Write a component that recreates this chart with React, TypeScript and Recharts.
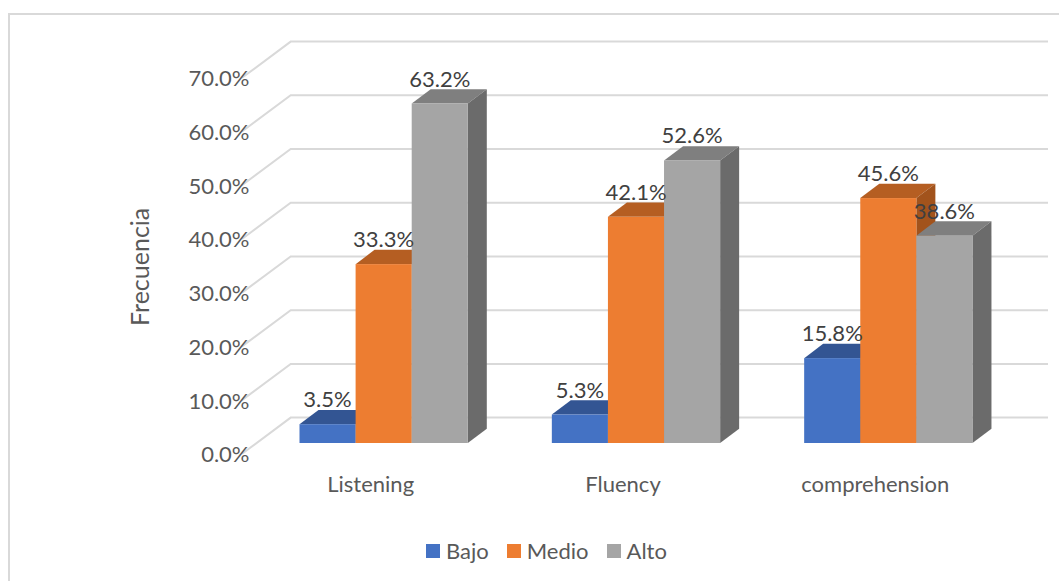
import { Bar, BarChart, CartesianGrid, LabelList, Legend, XAxis, YAxis } from "recharts";

const categories = ["Listening", "Fluency", "comprehension"];
const bajo = [3.5, 5.3, 15.8];
const medio = [33.3, 42.1, 45.6];
const alto = [63.2, 52.6, 38.6];
const yTicks = [0, 10, 20, 30, 40, 50, 60, 70];
const seriesNames = ["Bajo", "Medio", "Alto"];

const data = categories.map((name, i) => ({ name, Bajo: bajo[i], Medio: medio[i], Alto: alto[i] }));

const FONT = "Lato, sans-serif";
const GRID = "#D9D9D9";
const colors: Record<string, { front: string; top: string; side: string }> = {
  Bajo: { front: "#4472C4", top: "#335593", side: "#2B4A82" },
  Medio: { front: "#ED7D31", top: "#B55E22", side: "#A2531C" },
  Alto: { front: "#A5A5A5", top: "#7F7F7F", side: "#6B6B6B" },
};

// box depth of the bars, and where the floor/back wall sit relative to the bar plane
const DX = 19;
const DY = 14.3;

function Box3D({ x, y, width, height, name }: any) {
  const c = colors[name];
  const r = x + width;
  const b = y + height;
  return (
    <g>
      <path d={`M${x} ${y}L${x + DX} ${y - DY}L${r + DX} ${y - DY}L${r} ${y}Z`} fill={c.top} />
      <path d={`M${r} ${y}L${r + DX} ${y - DY}L${r + DX} ${b - DY}L${r} ${b}Z`} fill={c.side} />
      <rect x={x} y={y} width={width} height={height} fill={c.front} />
    </g>
  );
}

function WallLine({ y1 }: any) {
  return (
    <path
      d={`M242 ${y1 + 10.8}L290.7 ${y1 - 25.4}L1048 ${y1 - 25.4}`}
      fill="none"
      stroke={GRID}
      strokeWidth={2}
    />
  );
}

function YTick({ x, y, payload }: any) {
  return (
    <text x={x} y={y + 10.8} textAnchor="end" dominantBaseline="central" fontSize={22} fontFamily={FONT} fill="#595959">
      {payload.value.toFixed(1)}%
    </text>
  );
}

function XTick({ x, payload }: any) {
  return (
    <text x={x - 13} y={483.5} textAnchor="middle" dominantBaseline="central" fontSize={22} fontFamily={FONT} fill="#595959">
      {payload.value}
    </text>
  );
}

function LegendRow() {
  return (
    <div style={{ position: "absolute", left: 426, top: 537.5, height: 26, display: "flex", alignItems: "center", fontFamily: FONT, fontSize: 22, color: "#595959", whiteSpace: "nowrap" }}>
      {seriesNames.map((n) => (
        <span key={n} style={{ display: "flex", alignItems: "center", marginRight: 18 }}>
          <span style={{ width: 14, height: 14, background: colors[n].front, marginRight: 6 }} />
          {n}
        </span>
      ))}
    </div>
  );
}

export default function App() {
  return (
    <div style={{ position: "absolute", left: 0, top: 0, width: 1059, height: 581, overflow: "hidden", background: "#fff" }}>
      <div style={{ position: "absolute", left: 8, top: 13, width: 1060, height: 600, borderTop: `2px solid ${GRID}`, borderLeft: `2px solid ${GRID}`, boxSizing: "border-box" }} />
      <BarChart
        width={1059}
        height={581}
        data={data}
        margin={{ top: 67, right: 44.5, bottom: 108, left: 197.5 }}
        barSize={56.1}
        barGap={0}
        style={{ position: "absolute", left: 0, top: 0 }}
      >
        <CartesianGrid vertical={false} horizontal={(p: any) => <WallLine key={p.key} {...p} />} />
        <XAxis dataKey="name" height={30} axisLine={false} tickLine={false} tick={<XTick />} interval={0} />
        <YAxis
          width={60}
          domain={[0, 70]}
          ticks={yTicks}
          axisLine={false}
          tickLine={false}
          tickSize={0}
          tickMargin={8}
          tick={<YTick />}
          label={{ value: "Frecuencia", angle: -90, position: "insideLeft", offset: 0, dx: -57, dy: 71, fontSize: 25, fontFamily: FONT, fill: "#595959" }}
        />
        <Legend
          content={<LegendRow />}
          wrapperStyle={{ position: "absolute", left: 0, top: 0, bottom: "auto", width: 0, height: 0 }}
        />
        {seriesNames.map((n) => (
          <Bar key={n} dataKey={n} name={n} fill={colors[n].front} shape={<Box3D name={n} />} isAnimationActive={false}>
            <LabelList
              dataKey={n}
              position="top"
              offset={17}
              formatter={(v: any) => `${v.toFixed(1)}%`}
              fontSize={22}
              fontFamily={FONT}
              fill="#404040"
            />
          </Bar>
        ))}
      </BarChart>
    </div>
  );
}
